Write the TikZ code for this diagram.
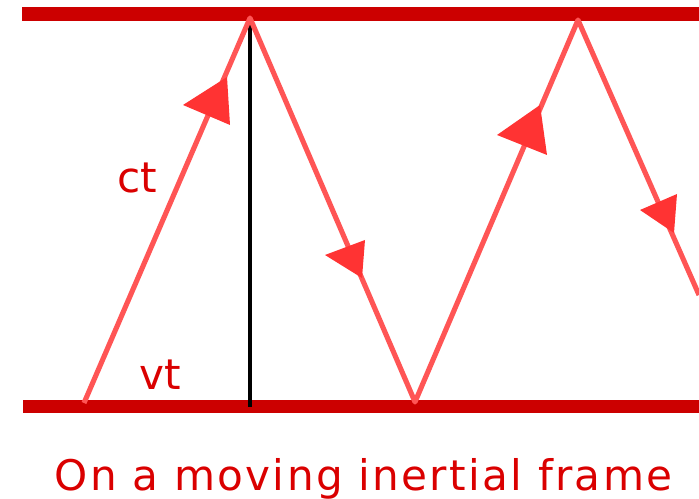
\documentclass[tikz,border=0pt]{standalone}
\usepackage{fontspec}
\setmainfont{DejaVu Sans}
\newfontfamily\capfont[LetterSpace=5.5]{DejaVu Sans}
\usepackage{tikz}
\usetikzlibrary{calc}
\definecolor{framered}{RGB}{204,0,0}
\definecolor{rayred}{RGB}{255,85,85}
\definecolor{tipred}{RGB}{255,51,51}
\definecolor{labelred}{RGB}{218,0,0}

\begin{document}
\begin{tikzpicture}[x=0.02cm,y=-0.02cm,
    mirror/.style={framered,line width=7.6pt},
    ray/.style={rayred,line width=2.9pt,line join=round},
    tiphead/.style={tipred},
    lbl/.style={labelred,inner sep=0pt,anchor=base,font=\fontsize{24}{28}\selectfont}]
     \useasboundingbox (0,0) rectangle (699,499);
     % mirrors
     \coordinate (tl) at (22,14);
     \coordinate (tr) at (699,14);
     \coordinate (bl) at (23,406.5);
     \coordinate (br) at (699,406.5);
     \draw[mirror] (tl)--(tr);
     \draw[mirror] (bl)--(br);
     % light path
     \coordinate (p0) at (84,403);
     \coordinate (p1) at (250,18);
     \coordinate (p2) at (415,402);
     \coordinate (p3) at (578,20);
     \coordinate (p4) at (699,295);
     \draw[black,line width=1.8pt] (p1)--($(p1)!1!(p1|-br)$) coordinate (foot);
     \draw[ray] (p0)--(p1)--(p2)--(p3)--(p4);
     \fill[tiphead] (183,105)--(227,77)--(230,125)--cycle;
     \fill[tiphead] (325,255)--(365,240)--(362,278)--cycle;
     \fill[tiphead] (497,135)--(540,105)--(547,155)--cycle;
     \fill[tiphead] (640,210)--(677,194)--(674,233)--cycle;
     % labels
     \node[lbl] (ct) at (137.5,193) {ct};
     \node[lbl] (vt) at (160.5,390) {vt};
     \node[lbl] (caption) at (363.5,490) {\capfont On a moving inertial frame};
   \end{tikzpicture}
\end{document}
